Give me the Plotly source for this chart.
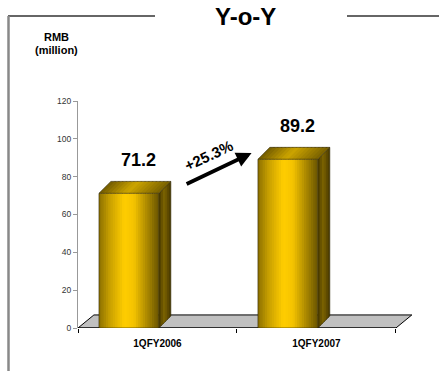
import plotly.graph_objects as go

# ---------------- data ----------------
categories = ["1QFY2006", "1QFY2007"]
values = [71.2, 89.2]
y_ticks = [0, 20, 40, 60, 80, 100, 120]
unit_label = ["RMB", "(million)"]
title_text = "Y-o-Y"

# ---------------- layout constants ----------------
W, H = 439, 371
ML, MR, MT, MB = 78, 24, 101, 43
XR = [0, 2.12]
YR = [0, 120]
FONT = "Arial, 'Liberation Sans', sans-serif"

BAR_OFF = 0.132   # front-face left edge relative to category start
BAR_W = 0.377     # front-face width
BDX, BDY = 0.075, 6.3   # bar depth
FDX, FDY = 0.1, 6.9     # floor depth


def pxx(p):
    return (p - ML) / (W - ML - MR)


def pxy(p):
    return (H - MB - p) / (H - MT - MB)


def grad(stops, t):
    for (t0, c0), (t1, c1) in zip(stops, stops[1:]):
        if t0 <= t <= t1:
            f = (t - t0) / (t1 - t0) if t1 > t0 else 0
            c = [round(a + (b - a) * f) for a, b in zip(c0, c1)]
            return f"rgb({c[0]},{c[1]},{c[2]})"
    c = stops[-1][1]
    return f"rgb({c[0]},{c[1]},{c[2]})"


FRONT = [(0.0, (140, 112, 0)), (0.18, (200, 160, 0)), (0.42, (255, 205, 0)),
         (0.58, (245, 196, 0)), (0.82, (165, 132, 0)), (1.0, (105, 84, 0))]
TOP = [(0.0, (115, 92, 0)), (0.45, (205, 165, 0)), (1.0, (120, 96, 0))]
SIDE = [(0.0, (75, 60, 0)), (0.45, (125, 100, 0)), (1.0, (70, 55, 0))]

n = len(categories)
fig = go.Figure()


def poly(xs, ys, color, width=0, lc=None):
    fig.add_trace(go.Scatter(
        x=xs + [xs[0]], y=ys + [ys[0]], mode="lines", fill="toself",
        fillcolor=color, line=dict(width=width, color=lc or color),
        hoverinfo="skip", showlegend=False))


# floor
poly([0, n, n + FDX, FDX], [0, 0, FDY, FDY], "#C0C0C0", 1, "black")
# x axis line
fig.add_trace(go.Scatter(x=[0, n], y=[0, 0], mode="lines",
                         line=dict(color="black", width=1),
                         hoverinfo="skip", showlegend=False))

for i, v in enumerate(values):
    left = i + BAR_OFF
    right = left + BAR_W
    NF = 26
    sw = BAR_W / NF
    for k in range(NF):
        x0 = left + k * sw
        x1 = min(x0 + sw * 1.4, right)
        poly([x0, x1, x1, x0], [0, 0, v, v], grad(FRONT, (k + 0.5) / NF))
    NS = 6
    for k in range(NS):
        t0 = k / NS
        t1 = min((k + 1.4) / NS, 1)
        poly([right + t0 * BDX, right + t1 * BDX, right + t1 * BDX, right + t0 * BDX],
             [t0 * BDY, t1 * BDY, v + t1 * BDY, v + t0 * BDY],
             grad(SIDE, (k + 0.5) / NS))
    NT = 16
    st = BAR_W / NT
    for k in range(NT):
        x0 = left + k * st
        x1 = min(x0 + st * 1.4, right)
        poly([x0, x1, x1 + BDX, x0 + BDX], [v, v, v + BDY, v + BDY],
             grad(TOP, (k + 0.5) / NT))
    # outline
    ox = [left, left, left + BDX, right + BDX, right + BDX, right, left, None,
          left, right, right, None, right, right + BDX]
    oy = [0, v, v + BDY, v + BDY, BDY, 0, 0, None,
          v, v, 0, None, v, v + BDY]
    fig.add_trace(go.Scatter(x=ox, y=oy, mode="lines",
                             line=dict(color="#2a2200", width=0.6),
                             hoverinfo="skip", showlegend=False))

annotations = []
for i, v in enumerate(values):
    annotations.append(dict(
        x=i + BAR_OFF + BAR_W / 2 + 0.06, y=v + 17.5, xref="x", yref="y",
        text=f"<b>{v}</b>", showarrow=False,
        font=dict(family=FONT, size=18, color="black")))

# growth arrow
x_start = BAR_OFF + BAR_W + BDX + 0.09
x_end = 1 + BAR_OFF - 0.04
annotations.append(dict(
    x=x_end, y=values[1] + 3.3, ax=x_start, ay=values[0] + 4.5,
    xref="x", yref="y", axref="x", ayref="y", text="", showarrow=True,
    arrowhead=2, arrowsize=0.8, arrowwidth=3.8, arrowcolor="black"))
growth = (values[1] / values[0] - 1) * 100
annotations.append(dict(
    x=0.82, y=91.4, xref="x", yref="y", text=f"<b>+{growth:.1f}%</b>",
    textangle=-25, showarrow=False,
    font=dict(family=FONT, size=15, color="black")))

# title & unit label
annotations.append(dict(
    x=pxx(245), y=pxy(16), xref="paper", yref="paper", text=f"<b>{title_text}</b>",
    showarrow=False, yanchor="middle", xanchor="center",
    font=dict(family=FONT, size=24, color="black")))
for j, t in enumerate(unit_label):
    annotations.append(dict(
        x=pxx(56), y=pxy(37.5 + 12.5 * j), xref="paper", yref="paper",
        text=f"<b>{t}</b>", showarrow=False, yanchor="middle", xanchor="center",
        font=dict(family=FONT, size=11, color="black")))

shapes = [
    dict(type="line", xref="paper", yref="paper", x0=pxx(8), x1=pxx(155),
         y0=pxy(16), y1=pxy(16), line=dict(color="#333333", width=1.3)),
    dict(type="line", xref="paper", yref="paper", x0=pxx(347), x1=pxx(439),
         y0=pxy(16), y1=pxy(16), line=dict(color="#333333", width=1.3)),
    dict(type="line", xref="paper", yref="paper", x0=pxx(8.5), x1=pxx(8.5),
         y0=pxy(16), y1=pxy(371), line=dict(color="#888888", width=2.5)),
]

fig.update_layout(
    width=W, height=H,
    margin=dict(l=ML, r=MR, t=MT, b=MB, pad=0),
    paper_bgcolor="white", plot_bgcolor="white",
    showlegend=False,
    annotations=annotations, shapes=shapes,
    xaxis=dict(range=XR, showgrid=False, zeroline=False, showline=False,
               tickmode="array", tickvals=[i + 0.5 for i in range(n)],
               ticktext=categories, ticks="", ticklabelstandoff=8,
               tickfont=dict(family=FONT, size=10, color="black", weight="bold"),
               minor=dict(tickmode="array", tickvals=list(range(n + 1)),
                          ticks="outside", ticklen=4, tickcolor="black",
                          tickwidth=1, showgrid=False),
               fixedrange=True),
    yaxis=dict(range=YR, showgrid=False, zeroline=False, showline=True,
               linecolor="#999999", linewidth=1,
               tickmode="array", tickvals=y_ticks, ticks="outside",
               ticklen=4, tickcolor="#999999",
               tickfont=dict(family=FONT, size=8.5, color="#333333"),
               fixedrange=True),
)

fig.write_html("out.html")
